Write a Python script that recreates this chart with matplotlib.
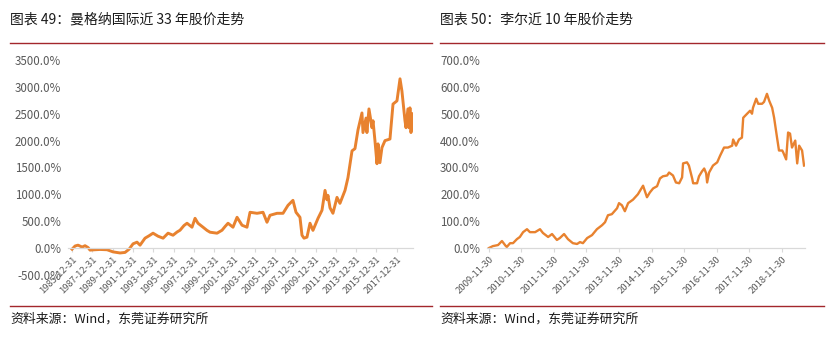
import matplotlib
matplotlib.use("Agg")
import matplotlib.pyplot as plt
from matplotlib.ticker import FuncFormatter
from matplotlib.lines import Line2D

plt.rcParams['font.family'] = ['Noto Sans CJK SC', 'DejaVu Sans']

# ---------------- data ----------------
title_left = "图表 49：曼格纳国际近 33 年股价走势"
title_right = "图表 50：李尔近 10 年股价走势"
source_text = "资料来源：Wind，东莞证券研究所"

# left chart: years since 1985-12-31, cumulative return (%)
left_t = [0.00, 0.30, 0.59, 0.99, 1.28, 1.58, 1.77, 2.27, 2.76, 3.45, 4.04, 4.73, 5.22, 5.62,
          6.01, 6.40, 6.70, 7.19, 7.59, 7.98, 8.47, 8.97, 9.46, 9.95, 10.35, 10.64, 11.03, 11.33,
          11.82, 12.12, 12.41, 12.91, 13.30, 13.60, 14.29, 14.78, 15.07, 15.37, 15.86, 16.26, 16.75,
          17.24, 17.54, 18.23, 18.82, 19.21, 19.51, 20.20, 20.79, 21.28, 21.77, 22.07, 22.46, 22.66,
          22.86, 23.15, 23.45, 23.74, 24.24, 24.63, 24.93, 25.12, 25.22, 25.42, 25.71, 26.11, 26.40,
          26.90, 27.19, 27.59, 27.88, 28.18, 28.57, 28.67, 28.97, 29.06, 29.26, 29.56, 29.66, 29.85,
          30.05, 30.15, 30.34, 30.54, 30.84, 31.33, 31.63, 32.02, 32.32, 32.51, 32.81, 32.91, 33.10,
          33.20, 33.30, 33.40, 33.60]
left_v = [-20, 40, 55, 20, 45, 10, -37, -30, -25, -30, -70, -90, -80, -20,
          80, 111, 55, 185, 230, 278, 222, 185, 278, 240, 300, 333, 420, 463,
          389, 555, 463, 389, 330, 296, 278, 333, 400, 463, 389, 574, 426,
          389, 667, 648, 667, 481, 611, 648, 648, 796, 889, 667, 574, 240,
          185, 204, 463, 330, 555, 704, 1074, 900, 981, 750, 648, 944, 833,
          1074, 1310, 1810, 1850, 2200, 2515, 2150, 2420, 2150, 2590, 2240, 2370, 2000,
          1570, 1940, 1590, 1870, 2000, 2030, 2680, 2740, 3150, 2920, 2370, 2240, 2590,
          2240, 2610, 2150, 2500]
left_ticks_t = list(range(0, 34, 2))
left_tick_labels = [f"{1985 + k}-12-31" for k in left_ticks_t]
left_yticks = [-500, 0, 500, 1000, 1500, 2000, 2500, 3000, 3500]

# right chart: years since 2009-11-30, cumulative return (%)
right_t = [0.00, 0.12, 0.28, 0.40, 0.52, 0.55, 0.65, 0.74, 0.86, 0.95, 1.05, 1.17, 1.26, 1.42,
           1.57, 1.66, 1.82, 1.94, 2.09, 2.18, 2.31, 2.43, 2.58, 2.71, 2.80, 2.89, 3.02, 3.17,
           3.32, 3.48, 3.57, 3.66, 3.78, 3.94, 4.00, 4.09, 4.18, 4.28, 4.43, 4.58, 4.74, 4.86,
           4.95, 5.05, 5.17, 5.26, 5.35, 5.48, 5.54, 5.66, 5.75, 5.85, 5.94, 5.97, 6.09, 6.15,
           6.25, 6.28, 6.40, 6.46, 6.55, 6.62, 6.68, 6.71, 6.77, 6.89, 7.02, 7.11, 7.23, 7.35,
           7.48, 7.51, 7.60, 7.69, 7.78, 7.82, 7.94, 8.03, 8.09, 8.12, 8.22, 8.28, 8.40, 8.46,
           8.55, 8.62, 8.71, 8.77, 8.86, 8.92, 9.02, 9.05, 9.14, 9.20, 9.26, 9.32, 9.42, 9.48,
           9.54, 9.63, 9.69]
right_v = [0, 7, 11, 26, 7, 4, 18, 18, 33, 41, 59, 70, 59, 59,
           70, 56, 41, 52, 30, 37, 52, 33, 18, 15, 22, 18, 37, 48,
           70, 85, 96, 122, 126, 148, 167, 159, 137, 167, 180, 200, 232, 189,
           207, 222, 230, 259, 267, 270, 281, 270, 244, 241, 263, 315, 319, 307,
           259, 241, 241, 267, 285, 296, 278, 244, 281, 307, 319, 344, 374, 374,
           381, 404, 381, 404, 411, 485, 500, 511, 500, 522, 556, 537, 537, 544,
           574, 548, 522, 485, 411, 363, 363, 356, 330, 430, 426, 374, 400, 315,
           381, 363, 307]
right_ticks_t = list(range(0, 10))
right_tick_labels = [f"{2009 + k}-11-30" for k in right_ticks_t]
right_yticks = [0, 100, 200, 300, 400, 500, 600, 700]

# ---------------- figure ----------------
W, H = 836, 338
fig = plt.figure(figsize=(W / 100, H / 100), dpi=100)

def fx(px):
    return px / W

def fy(py):
    return 1 - py / H

line_color = "#E8822F"
grid_gray = "#D9D9D9"
label_gray = "#595959"
red = "#A3272C"

def style_axes(ax, ticks_t, tick_labels, yticks):
    for s in ["left", "right", "top"]:
        ax.spines[s].set_visible(False)
    ax.spines["bottom"].set_position(("data", 0))
    ax.spines["bottom"].set_color(grid_gray)
    ax.spines["bottom"].set_linewidth(0.9)
    ax.set_yticks(yticks)
    ax.yaxis.set_major_formatter(FuncFormatter(lambda v, p: f"{v:.1f}%"))
    ax.tick_params(axis="y", length=0, pad=5, labelsize=8.3, labelcolor=label_gray)
    ax.set_xticks(ticks_t)
    ax.set_xticklabels(tick_labels, rotation=45, ha="right", rotation_mode="anchor")
    ax.tick_params(axis="x", direction="out", length=3, width=0.8, color=grid_gray,
                   labelsize=6.8, labelcolor=label_gray, pad=2)
    ax.patch.set_alpha(0)

# left axes
axL = fig.add_axes([fx(68), fy(275), fx(413 - 68), (275 - 60) / H])
axL.plot(left_t, left_v, color=line_color, lw=2.1, solid_joinstyle="round")
axL.set_xlim(-0.4, 33.6)
axL.set_ylim(-500, 3500)
style_axes(axL, left_ticks_t, left_tick_labels, left_yticks)

# right axes
axR = fig.add_axes([fx(487), fy(248), fx(805 - 487), (248 - 60) / H])
axR.plot(right_t, right_v, color=line_color, lw=1.7, solid_joinstyle="round")
axR.set_xlim(-0.06, 9.72)
axR.set_ylim(0, 700)
style_axes(axR, right_ticks_t, right_tick_labels, right_yticks)

# titles
fig.text(fx(10), fy(20), title_left, fontsize=10, color="#1a1a1a", va="center", ha="left")
fig.text(fx(440), fy(20), title_right, fontsize=10, color="#1a1a1a", va="center", ha="left")

# red rules
for y in (43, 306):
    fig.add_artist(Line2D([fx(10), fx(432)], [fy(y), fy(y)], color=red, lw=1.0))
    fig.add_artist(Line2D([fx(440), fx(824)], [fy(y), fy(y)], color=red, lw=1.0))

# sources
fig.text(fx(10), fy(319), source_text, fontsize=9.3, color="#1a1a1a", va="center", ha="left")
fig.text(fx(440), fy(319), source_text, fontsize=9.3, color="#1a1a1a", va="center", ha="left")

fig.savefig("out.png", dpi=100, facecolor="white")
